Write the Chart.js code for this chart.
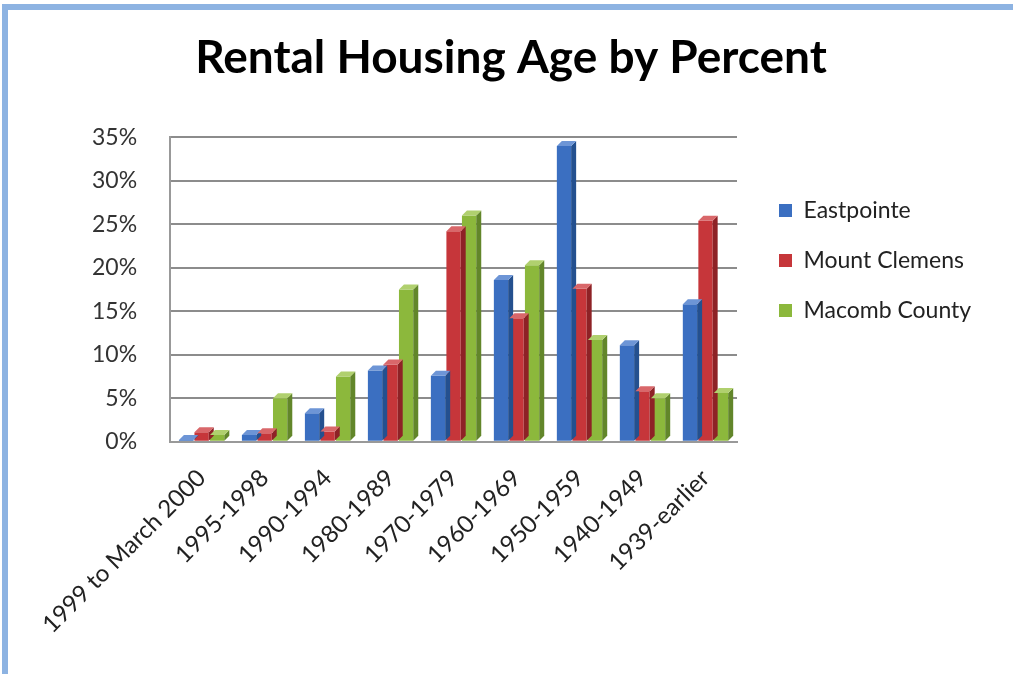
<!DOCTYPE html>
<html>
<head>
<meta charset="utf-8">
<script src="https://cdn.jsdelivr.net/npm/chart.js@4"></script>
<style>
  html, body { margin: 0; padding: 0; background: #fff; }
  #wrap { position: relative; width: 1013px; height: 674px; overflow: hidden; }
  #frame { position: absolute; left: 2px; top: 4px; width: 1011px; height: 670px;
           border-left: 6px solid #8db3e2; border-top: 6px solid #8db3e2; box-sizing: border-box; }
  canvas { position: absolute; left: 0; top: 0; }
</style>
</head>
<body>
<div id="wrap">
  <div id="frame"></div>
  <canvas id="myChart" width="1013" height="674"></canvas>
</div>
<script>
var categories = ['1999 to March 2000', '1995-1998', '1990-1994', '1980-1989', '1970-1979', '1960-1969', '1950-1959', '1940-1949', '1939-earlier'];
var eastpointe = [0.2, 0.8, 3.3, 8.2, 7.6, 18.6, 34.0, 11.1, 15.8];
var mountClemens = [1.1, 1.0, 1.2, 8.9, 24.2, 14.2, 17.6, 5.8, 25.4];
var macombCounty = [0.8, 5.0, 7.5, 17.5, 26.0, 20.3, 11.7, 5.0, 5.6];
var yTicks = [0, 5, 10, 15, 20, 25, 30, 35];

// fake 3D look: darker right side + top cap on each bar
var bar3d = {
    id: 'bar3d',
    afterDatasetsDraw: function(chart) {
        var c = chart.ctx;
        var d = 5;
        chart.data.datasets.forEach(function(ds, i) {
            chart.getDatasetMeta(i).data.forEach(function(bar) {
                var l = bar.x - bar.width / 2, r = bar.x + bar.width / 2;
                var t = bar.y, b = bar.base;
                c.save();
                c.fillStyle = ds.sideColor;
                c.beginPath();
                c.moveTo(r, t); c.lineTo(r + d, t - d); c.lineTo(r + d, b - d); c.lineTo(r, b);
                c.closePath(); c.fill();
                c.fillStyle = ds.topColor;
                c.beginPath();
                c.moveTo(l, t); c.lineTo(l + d, t - d); c.lineTo(r + d, t - d); c.lineTo(r, t);
                c.closePath(); c.fill();
                c.restore();
            });
        });
    }
};

// push the legend a bit to the right, leaving a wider gap next to the plot
var legendShift = {
    id: 'legendShift',
    afterLayout: function(chart) {
        chart.legend.left += 15;
        chart.legend.right += 15;
    }
};

var ctx = document.getElementById('myChart').getContext('2d');
var myChart = new Chart(ctx, {
    type: 'bar',
    data: {
        labels: categories,
        datasets: [{
            label: 'Eastpointe',
            data: eastpointe,
            backgroundColor: '#3b6fc1',
            sideColor: '#24508f',
            topColor: '#6d95d6'
        }, {
            label: 'Mount Clemens',
            data: mountClemens,
            backgroundColor: '#c6363a',
            sideColor: '#8e2226',
            topColor: '#d9676a'
        }, {
            label: 'Macomb County',
            data: macombCounty,
            backgroundColor: '#8cb83c',
            sideColor: '#62862a',
            topColor: '#b0d06e'
        }]
    },
    options: {
        responsive: false,
        animation: false,
        layout: {
            padding: { left: 59, right: 50, top: 20, bottom: 21 }
        },
        datasets: {
            bar: { categoryPercentage: 0.74, barPercentage: 0.92 }
        },
        plugins: {
            title: {
                display: true,
                text: 'Rental Housing Age by Percent',
                color: '#000',
                font: { family: 'Lato', size: 46, weight: 'bold' },
                padding: { top: 11, bottom: 51 }
            },
            legend: {
                position: 'right',
                align: 'start',
                title: {
                    display: true,
                    text: ' ',
                    font: { size: 10 },
                    padding: { top: 140, bottom: 0 }
                },
                labels: {
                    color: '#222',
                    font: { family: 'Lato', size: 23 },
                    boxWidth: 13,
                    boxHeight: 13,
                    padding: 27
                }
            },
            tooltip: { enabled: false }
        },
        scales: {
            x: {
                grid: { display: false },
                border: { color: '#999', width: 2 },
                ticks: {
                    color: '#222',
                    font: { family: 'Lato', size: 24 },
                    minRotation: 45,
                    maxRotation: 45,
                    autoSkip: false,
                    padding: 14
                }
            },
            y: {
                min: 0,
                max: 35,
                afterBuildTicks: function(axis) {
                    axis.ticks = yTicks.map(function(v) { return { value: v }; });
                },
                grid: { color: '#8c8c8c', lineWidth: 2, drawTicks: false },
                border: { color: '#999', width: 2 },
                ticks: {
                    color: '#333',
                    padding: 33,
                    font: { family: 'Lato', size: 23 },
                    callback: function(v) { return v + '%'; }
                }
            }
        }
    },
    plugins: [bar3d, legendShift]
});
</script>
</body>
</html>
